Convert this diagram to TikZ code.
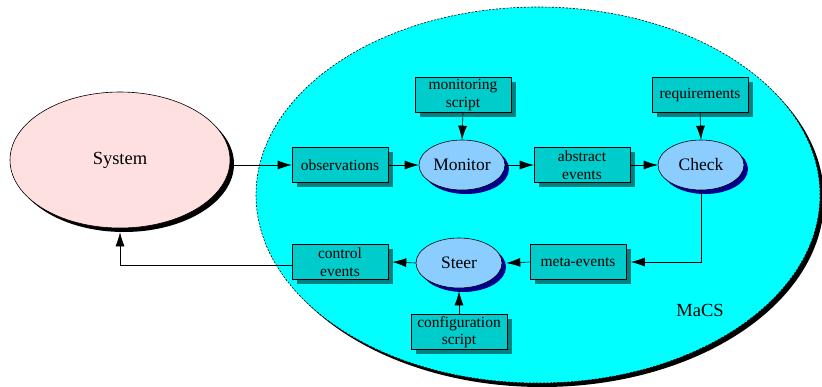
\documentclass[tikz,border=0pt]{standalone}
\usepackage{fontspec}
\setmainfont{Liberation Serif}
\usetikzlibrary{shapes.geometric,arrows.meta,shadows,positioning}
\definecolor{macscyan}{RGB}{0,255,255}
\definecolor{boxfill}{RGB}{0,204,204}
\definecolor{boxshadow}{RGB}{0,128,128}
\definecolor{ellfill}{RGB}{140,205,255}
\definecolor{navyshadow}{RGB}{0,0,140}
\definecolor{sysfill}{RGB}{255,224,224}
\tikzset{
  boxnode/.style={draw=black, line width=0.6pt, fill=boxfill, minimum width=96pt, minimum height=35pt,
    inner sep=1pt, align=center, font=\fontsize{15.5}{17.5}\selectfont,
    general shadow={fill=boxshadow, shadow xshift=4.5pt, shadow yshift=-4.5pt}},
  procnode/.style={ellipse, draw=black, line width=0.6pt, fill=ellfill, minimum width=86pt, minimum height=50pt,
    inner sep=0pt, font=\fontsize{17.5}{19}\selectfont,
    general shadow={fill=navyshadow, shadow xshift=4pt, shadow yshift=-4pt}},
  conn/.style={draw=black, line width=0.6pt, -{Latex[length=14pt,width=9pt]}}
}
\begin{document}
\begin{tikzpicture}[x=1pt,y=-1pt]
\useasboundingbox (0,0) rectangle (822,386);
% big MaCS ellipse
\node (macs) [ellipse, draw=black, line width=0.6pt, dash pattern=on 2pt off 1.5pt, fill=macscyan,
  minimum width=564pt, minimum height=376pt,
  general shadow={fill=black, shadow xshift=4pt, shadow yshift=-4pt}] at (538,195) {};
\node (macslabel) at (700,310) {\fontsize{18.5}{20}\selectfont MaCS};
% system
\node (sys) [ellipse, draw=black, line width=0.6pt, fill=sysfill, minimum width=220pt, minimum height=136pt,
  inner sep=0pt, font=\fontsize{18.5}{20}\selectfont,
  general shadow={fill=black, shadow xshift=4pt, shadow yshift=-4pt}] at (120,160) {System};
% top row
\node (obs) [boxnode] at (340,165) {observations};
\node (mon) [procnode] at (462,165) {Monitor};
\node (mscript) [boxnode] at (463,95) {monitoring\\script};
\node (abs) [boxnode] at (582,165) {abstract\\events};
\node (chk) [procnode] at (701,165) {Check};
\node (req) [boxnode] at (700,95) {requirements};
% bottom row
\node (ctrl) [boxnode] at (340,262) {control\\events};
\node (steer) [procnode] at (459,263) {Steer};
\node (meta) [boxnode] at (578,262) {meta-events};
\node (conf) [boxnode] at (459,332) {configuration\\script};
% connectors
\draw[conn] (sys.east |- obs.west) -- (obs.west);
\draw[conn] (obs.east) -- (mon.west);
\draw[conn] (mscript.south) -- (mon.north);
\draw[conn] (mon.east) -- (abs.west);
\draw[conn] (abs.east) -- (chk.west);
\draw[conn] (req.south) -- (chk.north);
\draw[conn] (chk.south) |- ([xshift=4.5pt]meta.east);
\draw[conn] (meta.west) -- ([xshift=4pt]steer.east);
\draw[conn] (conf.north) -- ([yshift=-3pt]steer.south);
\draw[conn] (steer.west) -- ([xshift=4pt]ctrl.east);
\draw[conn] ([yshift=-3pt]ctrl.west) -| ([yshift=-4pt]sys.south);
\end{tikzpicture}
\end{document}
